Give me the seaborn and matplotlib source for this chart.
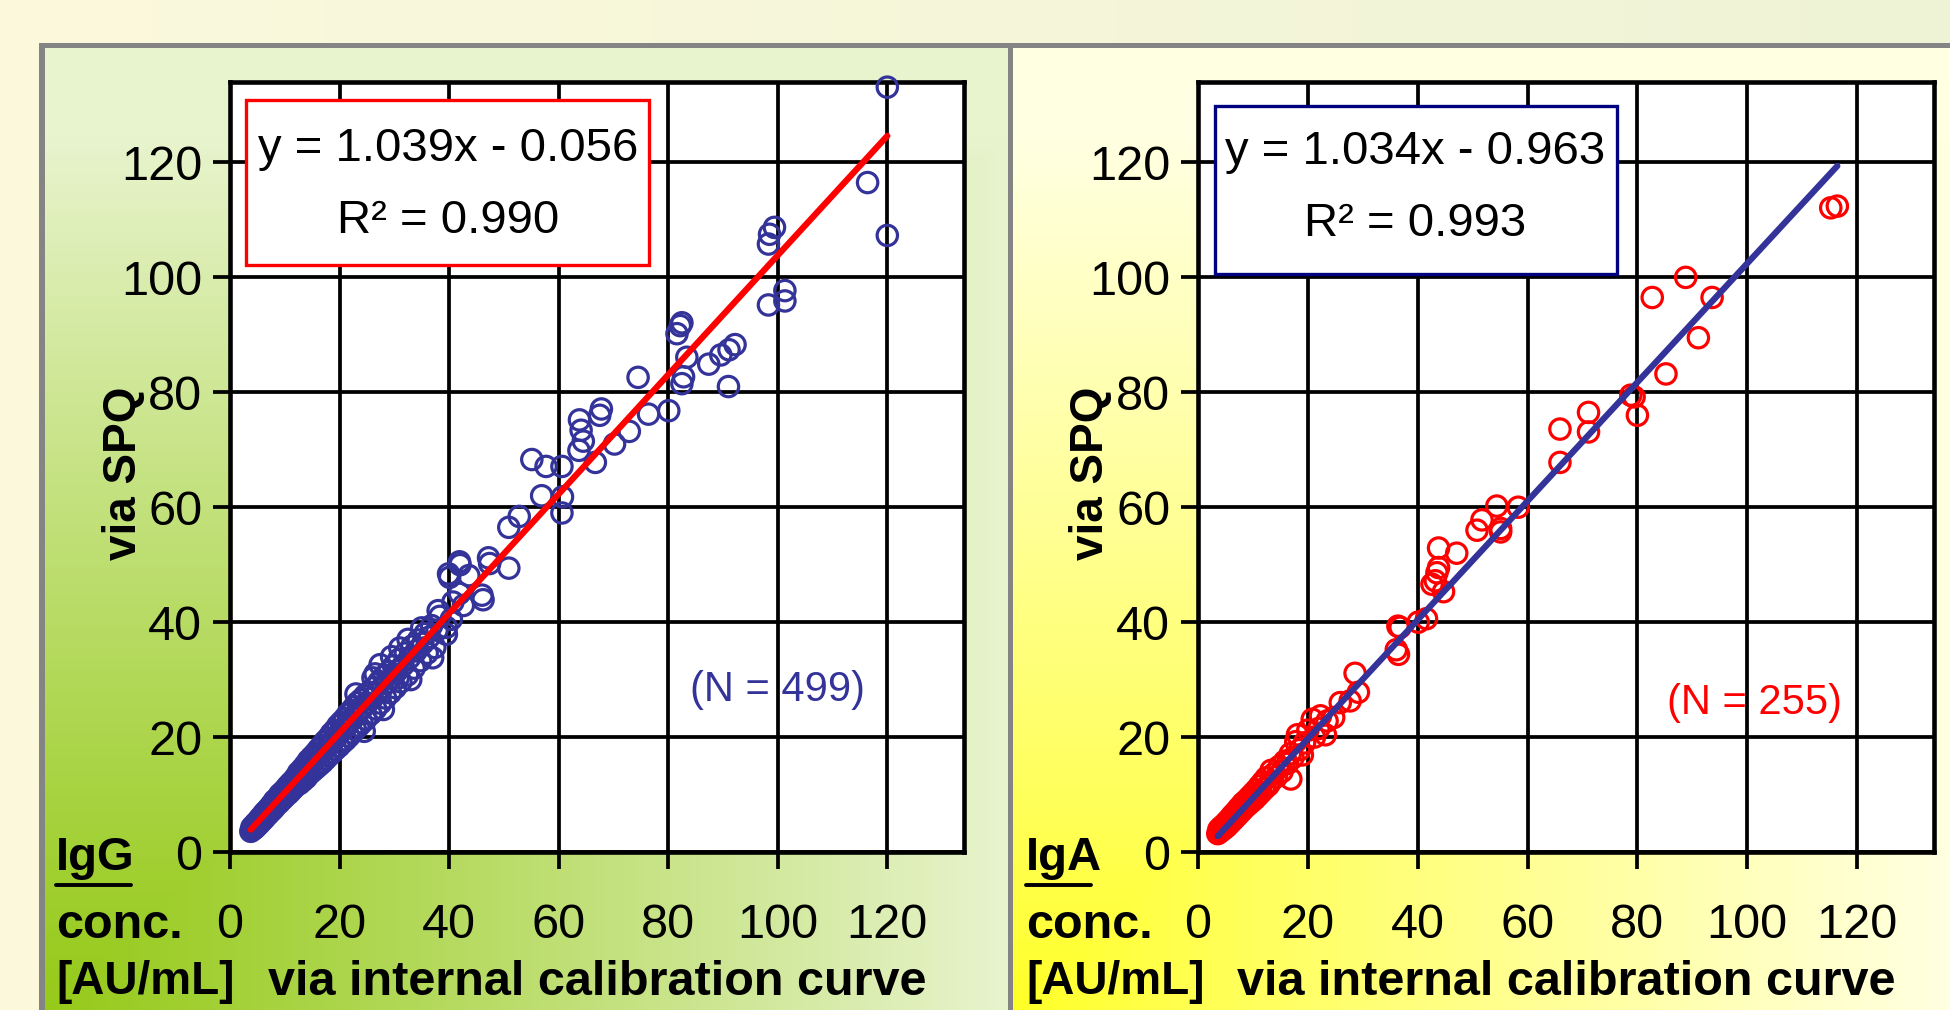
import numpy as np
import pandas as pd
import matplotlib
matplotlib.use("Agg")
import matplotlib.pyplot as plt
import seaborn as sns
from matplotlib.patches import Rectangle
from matplotlib.lines import Line2D

# ---------------- data ----------------
igg_points = [
    (3.8, 3.6), (4.0, 4.3), (4.2, 3.9), (4.5, 4.8), (4.6, 4.2), (4.8, 5.1), (5.0, 4.6), (5.2, 5.5),
    (5.3, 4.9), (5.5, 5.9), (5.6, 5.2), (5.8, 6.1), (6.0, 5.6), (6.1, 6.6), (6.3, 5.9), (6.5, 7.0),
    (6.6, 6.3), (6.8, 7.3), (7.0, 6.6), (7.1, 7.6), (7.3, 7.0), (7.5, 8.1), (7.6, 7.2), (7.8, 8.4),
    (8.0, 7.6), (8.1, 8.9), (8.3, 8.0), (8.5, 9.2), (8.6, 8.3), (8.8, 9.5), (9.0, 8.6), (9.1, 10.0),
    (9.3, 9.0), (9.5, 10.3), (9.6, 9.2), (9.8, 10.6), (10.0, 9.6), (10.2, 11.0), (10.3, 9.9), (10.5, 11.4),
    (10.7, 10.2), (10.9, 11.8), (11.0, 10.5), (11.2, 12.1), (11.4, 10.9), (11.6, 12.5), (11.8, 11.3),
    (12.0, 13.0), (12.1, 11.6),
    (12.3, 12.6), (12.5, 13.8), (12.7, 11.9), (12.9, 13.3), (13.1, 14.4), (13.3, 12.4), (13.5, 14.0),
    (13.7, 15.1), (13.9, 12.9), (14.1, 14.6), (14.3, 15.9), (14.5, 13.6), (14.7, 15.3), (14.9, 16.5),
    (15.1, 14.1), (15.3, 15.8), (15.5, 17.1), (15.7, 14.6), (15.9, 16.4), (16.1, 17.8), (16.3, 15.1),
    (16.5, 17.0), (16.7, 18.5), (16.9, 15.6), (17.1, 17.6), (17.3, 19.2), (17.5, 16.2), (17.7, 18.2),
    (17.9, 19.8), (18.1, 16.8), (18.3, 18.9), (18.5, 20.6), (18.7, 17.3), (18.9, 19.5), (19.1, 21.2),
    (19.3, 17.9), (19.5, 20.1), (19.7, 22.0), (19.9, 18.4), (20.1, 20.8), (20.3, 22.6), (20.5, 19.0),
    (20.7, 21.4), (20.9, 23.2), (21.1, 19.5), (21.3, 22.0), (21.5, 24.0), (21.7, 20.1), (21.9, 22.7),
    (22.1, 24.6), (22.3, 20.7), (22.5, 23.3), (22.7, 25.3), (22.9, 21.3), (23.1, 24.0), (23.3, 26.0),
    (23.5, 21.9), (23.7, 24.6), (23.9, 26.5), (24.1, 22.5), (24.3, 25.2), (24.6, 27.2), (24.8, 23.1),
    (23.0, 27.5), (24.5, 21.0), (25.1, 25.9), (25.4, 27.8), (25.7, 24.0), (26.0, 26.8), (26.1, 30.3),
    (26.3, 28.6), (26.5, 31.0), (26.6, 24.9), (26.9, 27.7), (27.2, 29.6), (27.4, 32.6), (27.5, 25.9),
    (27.8, 28.6), (28.0, 24.8), (28.1, 30.6), (28.4, 26.8), (28.7, 29.5), (29.0, 31.4), (29.3, 27.7),
    (29.5, 34.0), (29.6, 30.4), (29.9, 32.4), (30.2, 28.6), (30.5, 31.5), (30.7, 30.3), (30.8, 33.5),
    (31.0, 35.5), (31.2, 29.6), (31.6, 32.5), (32.0, 34.6), (32.4, 30.8), (32.5, 37.0), (32.8, 33.8),
    (33.0, 30.0), (33.2, 35.8), (33.6, 32.0), (34.0, 35.0), (34.4, 36.9), (34.8, 33.3), (35.0, 39.0),
    (35.2, 36.3), (35.6, 38.0), (36.0, 34.6), (36.4, 37.4), (36.8, 39.4), (37.0, 33.8), (37.4, 35.6),
    (37.8, 38.6), (38.0, 42.0), (38.3, 41.0),
    (39.5, 37.9), (39.5, 39.1), (39.9, 48.4), (40.1, 47.8), (40.4, 40.5), (40.7, 43.5), (41.9, 45.0),
    (41.9, 50.5), (42.0, 50.0), (42.6, 42.9), (43.6, 48.1), (46.0, 44.7), (46.2, 43.9), (47.2, 51.2),
    (47.4, 50.2), (50.9, 49.4), (50.9, 56.5), (52.8, 58.4),
    (55.1, 68.3), (56.9, 62.0), (57.7, 67.1), (60.6, 59.0), (60.6, 67.1), (60.7, 61.8), (63.7, 69.9),
    (63.8, 75.2), (64.1, 73.4), (64.5, 71.5), (66.7, 67.8), (67.5, 76.0), (67.8, 77.1), (70.2, 71.0),
    (72.9, 73.2), (74.5, 82.6), (76.4, 76.2), (80.1, 76.8), (81.6, 90.2), (82.2, 91.6), (82.5, 92.1),
    (82.5, 81.5), (82.8, 82.7), (83.4, 86.1), (87.4, 84.9), (89.6, 86.5), (91.0, 81.0), (91.1, 87.4),
    (92.2, 88.3), (98.3, 95.2), (101.3, 95.9), (101.3, 97.7), (98.3, 105.8), (98.5, 107.5),
    (99.4, 108.7), (116.4, 116.5), (120.0, 107.3), (120.0, 133.1),
]
iga_points = [
    (3.6, 3.2), (3.8, 3.9), (4.0, 3.5), (4.2, 4.3), (4.4, 3.8), (4.6, 4.6), (4.8, 4.1), (5.0, 5.0),
    (5.2, 4.4), (5.4, 5.4), (5.6, 4.8), (5.8, 5.8), (6.0, 5.2), (6.2, 6.3), (6.4, 5.6), (6.6, 6.7),
    (6.8, 6.0), (7.0, 7.1), (7.2, 6.4), (7.4, 7.6), (7.6, 6.8), (7.8, 8.0), (8.0, 7.2), (8.2, 8.5),
    (8.5, 7.7), (8.8, 9.0), (9.1, 8.2), (9.4, 9.6), (9.7, 8.7), (10.0, 10.2), (10.3, 9.2), (10.6, 10.8),
    (10.9, 9.8), (11.2, 11.5), (11.5, 10.4), (11.8, 12.2), (12.1, 11.0), (12.4, 12.9), (12.8, 11.6),
    (13.3, 14.2), (13.2, 12.2), (13.8, 13.6), (14.3, 13.1), (14.8, 14.9), (15.3, 14.0), (15.8, 15.8),
    (16.3, 15.4), (16.9, 12.7), (16.8, 17.1), (17.3, 16.4), (17.8, 19.2), (18.1, 20.4), (18.5, 17.8),
    (19.0, 16.9), (19.4, 19.0), (20.0, 21.2), (20.8, 23.1), (21.2, 20.0), (22.3, 23.7), (22.0, 21.5),
    (23.2, 20.4), (23.5, 22.8), (24.7, 23.4), (25.9, 26.0), (27.7, 26.3), (29.2, 27.8), (28.6, 31.1),
    (36.1, 35.2), (36.4, 39.3), (36.5, 34.4), (36.8, 39.1), (40.1, 40.0), (41.6, 40.6), (42.6, 46.6),
    (43.2, 47.2), (43.5, 48.6), (43.8, 49.5), (44.7, 45.3), (43.8, 52.9), (47.1, 52.0), (50.8, 56.0),
    (51.7, 57.8), (54.4, 60.2), (55.1, 55.7), (55.1, 56.3), (58.3, 60.0), (65.9, 67.8), (65.9, 73.6),
    (71.1, 73.1), (71.1, 76.5), (78.8, 79.5), (79.4, 79.2), (80.0, 76.0), (85.2, 83.2), (91.1, 89.5),
    (82.7, 96.5), (93.6, 96.5), (88.8, 100.0), (115.2, 112.1), (116.4, 112.4),
]
igg_x = [p[0] for p in igg_points]
igg_y = [p[1] for p in igg_points]
iga_x = [p[0] for p in iga_points]
iga_y = [p[1] for p in iga_points]

igg_fit = (1.039, -0.056, 0.990)   # slope, intercept, R^2
iga_fit = (1.034, -0.963, 0.993)
igg_n = 499
iga_n = 255
tick_values = [0, 20, 40, 60, 80, 100, 120]
panel_names = ["IgG", "IgA"]
x_label = "via internal calibration curve"
y_label = "via SPQ"
unit_lines = ["conc.", "[AU/mL]"]

# ---------------- styling ----------------
sns.set_theme(style="white")
plt.rcParams["font.family"] = ["Liberation Sans", "DejaVu Sans"]

W, H = 1950, 1010
fig = plt.figure(figsize=(W / 100, H / 100), dpi=100)

# background picture (slide decoration)
img = np.zeros((H, W, 3))
t = (np.arange(W) / W)[None, :, None]
c0 = np.array([252, 249, 221]) / 255
c1 = np.array([239, 243, 214]) / 255
img[:] = c0 * (1 - t) + c1 * t


def paint_panel(x0, x1, y0, y1, strong, light, gamma):
    sx = np.arange(x0, x1)[None, :]
    sy = np.arange(y0, y1)[:, None]
    dx = (sx - x0) / (x1 - x0)
    dy = (y1 - sy) / (y1 - y0)
    tt = np.clip(np.maximum(dx * 1.0, dy * 1.1), 0, 1) ** gamma
    tt = tt[..., None]
    s = np.array(strong) / 255
    l = np.array(light) / 255
    img[y0:y1, x0:x1] = s * (1 - tt) + l * tt


paint_panel(45, 1008, 48, H, (150, 202, 26), (232, 244, 206), 1.1)
paint_panel(1013, W, 48, H, (255, 255, 38), (255, 255, 226), 0.9)
gray = np.array([132, 132, 132]) / 255
img[43:48, 39:] = gray
img[43:, 39:45] = gray
img[43:, 1008:1013] = gray

bg = fig.add_axes([0, 0, 1, 1], zorder=-10)
bg.imshow(img, aspect="auto", interpolation="nearest", extent=(0, 1, 0, 1))
bg.set_axis_off()

navy = "#333399"
box_navy = "#000080"
red = "#FF0000"

panels = [
    dict(px0=230, px1=964, xs=igg_x, ys=igg_y, fit=igg_fit, n=igg_n, mcol=navy, lcol=red,
         boxcol=red, box=(0.022, 0.762, 0.549, 0.215), eqx=0.297, eq1=0.913, eq2=0.819,
         nx=100, ny=28.2, ncol=navy, name=panel_names[0], lab_px=56, ul=(56, 131)),
    dict(px0=1198, px1=1934, xs=iga_x, ys=iga_y, fit=iga_fit, n=iga_n, mcol=red, lcol=navy,
         boxcol=box_navy, box=(0.023, 0.751, 0.546, 0.218), eqx=0.295, eq1=0.909, eq2=0.816,
         nx=101.3, ny=26.0, ncol=red, name=panel_names[1], lab_px=1026, ul=(1026, 1091)),
]

py0, py1 = 82, 852
for P in panels:
    ax = fig.add_axes([P["px0"] / W, 1 - py1 / H, (P["px1"] - P["px0"]) / W, (py1 - py0) / H])
    ax.set_facecolor("white")
    df = pd.DataFrame({"cal": P["xs"], "spq": P["ys"]})
    sns.scatterplot(data=df, x="cal", y="spq", ax=ax, marker="o", s=215,
                    facecolor="none", edgecolor=P["mcol"], linewidth=2.3,
                    zorder=3, legend=False, clip_on=False)
    slope, icpt, r2 = P["fit"]
    lx = np.array([min(P["xs"]), max(P["xs"])])
    sns.lineplot(x=lx, y=slope * lx + icpt, ax=ax, color=P["lcol"], linewidth=4.5,
                 zorder=4, estimator=None, sort=False, legend=False)

    ax.set_xlim(0, 134)
    ax.set_ylim(0, 134)
    ax.set_xticks(tick_values)
    ax.set_yticks(tick_values)
    ax.set_xticklabels([str(v) for v in tick_values])
    ax.set_yticklabels([str(v) for v in tick_values])
    ax.grid(True, color="black", linewidth=2.7)
    ax.set_axisbelow(True)
    for sp in ax.spines.values():
        sp.set_color("black")
        sp.set_linewidth(3.3)
        sp.set_visible(True)
    ax.tick_params(axis="both", direction="out", length=12, width=2.7, color="black",
                   labelsize=35, labelcolor="black")
    ax.tick_params(axis="x", pad=25, bottom=True)
    ax.tick_params(axis="y", pad=8, left=True)

    ax.set_xlabel(x_label, fontsize=35, fontweight="bold", color="black")
    ax.xaxis.label.set_va("center")
    ax.xaxis.set_label_coords(0.5, -0.169)
    ax.set_ylabel(y_label, fontsize=33, fontweight="bold", color="black")
    ax.yaxis.label.set_va("center")
    ax.yaxis.set_label_coords(-0.145, 0.492)

    bx, by, bw, bh = P["box"]
    ax.add_patch(Rectangle((bx, by), bw, bh, transform=ax.transAxes, facecolor="white",
                           edgecolor=P["boxcol"], linewidth=2.4, zorder=6, clip_on=False))
    sign = "-" if icpt < 0 else "+"
    ax.text(P["eqx"], P["eq1"], f"y = {slope:.3f}x {sign} {abs(icpt):.3f}", transform=ax.transAxes,
            ha="center", va="center", fontsize=34, color="black", zorder=7)
    ax.text(P["eqx"], P["eq2"], f"R² = {r2:.3f}", transform=ax.transAxes,
            ha="center", va="center", fontsize=34, color="black", zorder=7)
    ax.text(P["nx"], P["ny"], f"(N = {P['n']})", ha="center", va="center", fontsize=30,
            color=P["ncol"], zorder=7)

    # panel labels
    fig.text(P["lab_px"] / W, 1 - 858 / H, P["name"], ha="left", va="center", fontsize=34,
             fontweight="bold", color="black")
    fig.add_artist(Line2D([P["ul"][0] / W, P["ul"][1] / W], [1 - 885 / H, 1 - 885 / H],
                          color="black", linewidth=2.8, transform=fig.transFigure))
    fig.text(P["lab_px"] / W, 1 - 926 / H, unit_lines[0], ha="left", va="center", fontsize=35,
             fontweight="bold", color="black")
    fig.text(P["lab_px"] / W, 1 - 982 / H, unit_lines[1], ha="left", va="center", fontsize=33,
             fontweight="bold", color="black")

fig.savefig("out.png", dpi=100)
